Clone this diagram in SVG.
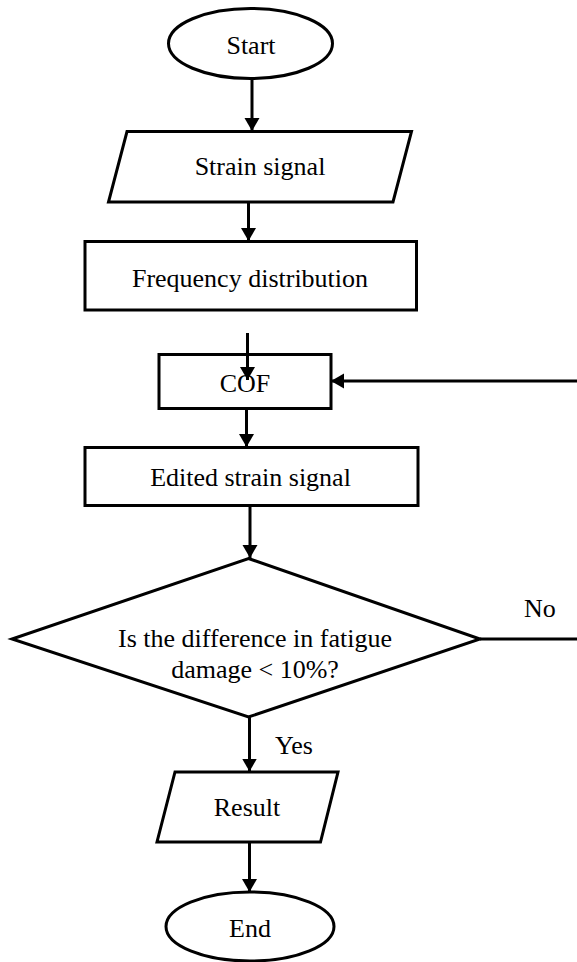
<svg xmlns="http://www.w3.org/2000/svg" width="577" height="962" viewBox="0 0 577 962">
<style>
.s{fill:#fff;stroke:#000;stroke-width:3;stroke-linejoin:miter}
.c{fill:none;stroke:#000;stroke-width:3}
.t{font-family:"Liberation Serif","Times New Roman",serif;font-size:26px;fill:#000;text-anchor:middle}
.l{font-family:"Liberation Serif","Times New Roman",serif;font-size:26px;fill:#000}
</style>
<defs>
<marker id="ah" markerUnits="userSpaceOnUse" markerWidth="14" markerHeight="16" refX="13" refY="7.5" orient="auto">
<path d="M0,0 L13,7.5 L0,15 z" fill="#000"/>
</marker>
</defs>
<rect width="577" height="962" fill="#fff"/>
<g id="start"><ellipse class="s" cx="250.5" cy="43.5" rx="82" ry="35"/><text class="t" x="251" y="54">Start</text></g>
<g id="strain"><polygon class="s" points="127,131.5 411.5,131.5 393,202 108.5,202"/><text class="t" x="260" y="175">Strain signal</text></g>
<g id="freq"><rect class="s" x="85" y="241.5" width="331.5" height="68.5"/><text class="t" x="250" y="287">Frequency distribution</text></g>
<g id="cof"><rect class="s" x="159" y="354.5" width="172" height="54"/><text class="t" x="245" y="392">COF</text></g>
<g id="edited"><rect class="s" x="85" y="447.5" width="333" height="58"/><text class="t" x="250.5" y="486">Edited strain signal</text></g>
<g id="decision"><polygon class="s" points="248.5,558.5 480,639 248.5,717 12,639"/><text class="t" x="255" y="647">Is the difference in fatigue</text><text class="t" x="255" y="678">damage &lt; 10%?</text></g>
<g id="result"><polygon class="s" points="175,772 338,772 320.5,842 157,842"/><text class="t" x="247" y="816">Result</text></g>
<g id="end"><ellipse class="s" cx="250" cy="926.5" rx="84" ry="34.5"/><text class="t" x="250" y="937">End</text></g>
<g id="connectors">
<line class="c" x1="252" y1="78.5" x2="252" y2="131" marker-end="url(#ah)"/>
<line class="c" x1="248.5" y1="202" x2="248.5" y2="241" marker-end="url(#ah)"/>
<line class="c" x1="247.5" y1="333" x2="247.5" y2="380" marker-end="url(#ah)"/>
<line class="c" x1="577" y1="381" x2="331" y2="381" marker-end="url(#ah)"/>
<line class="c" x1="246.5" y1="408.5" x2="246.5" y2="447" marker-end="url(#ah)"/>
<line class="c" x1="250" y1="505.5" x2="250" y2="558" marker-end="url(#ah)"/>
<line class="c" x1="480" y1="639" x2="577" y2="639"/>
<line class="c" x1="249.5" y1="717" x2="249.5" y2="771.5" marker-end="url(#ah)"/>
<line class="c" x1="249.5" y1="842" x2="249.5" y2="892" marker-end="url(#ah)"/>
<text class="l" x="524" y="617">No</text>
<text class="l" x="275" y="754">Yes</text>
</g>
</svg>
